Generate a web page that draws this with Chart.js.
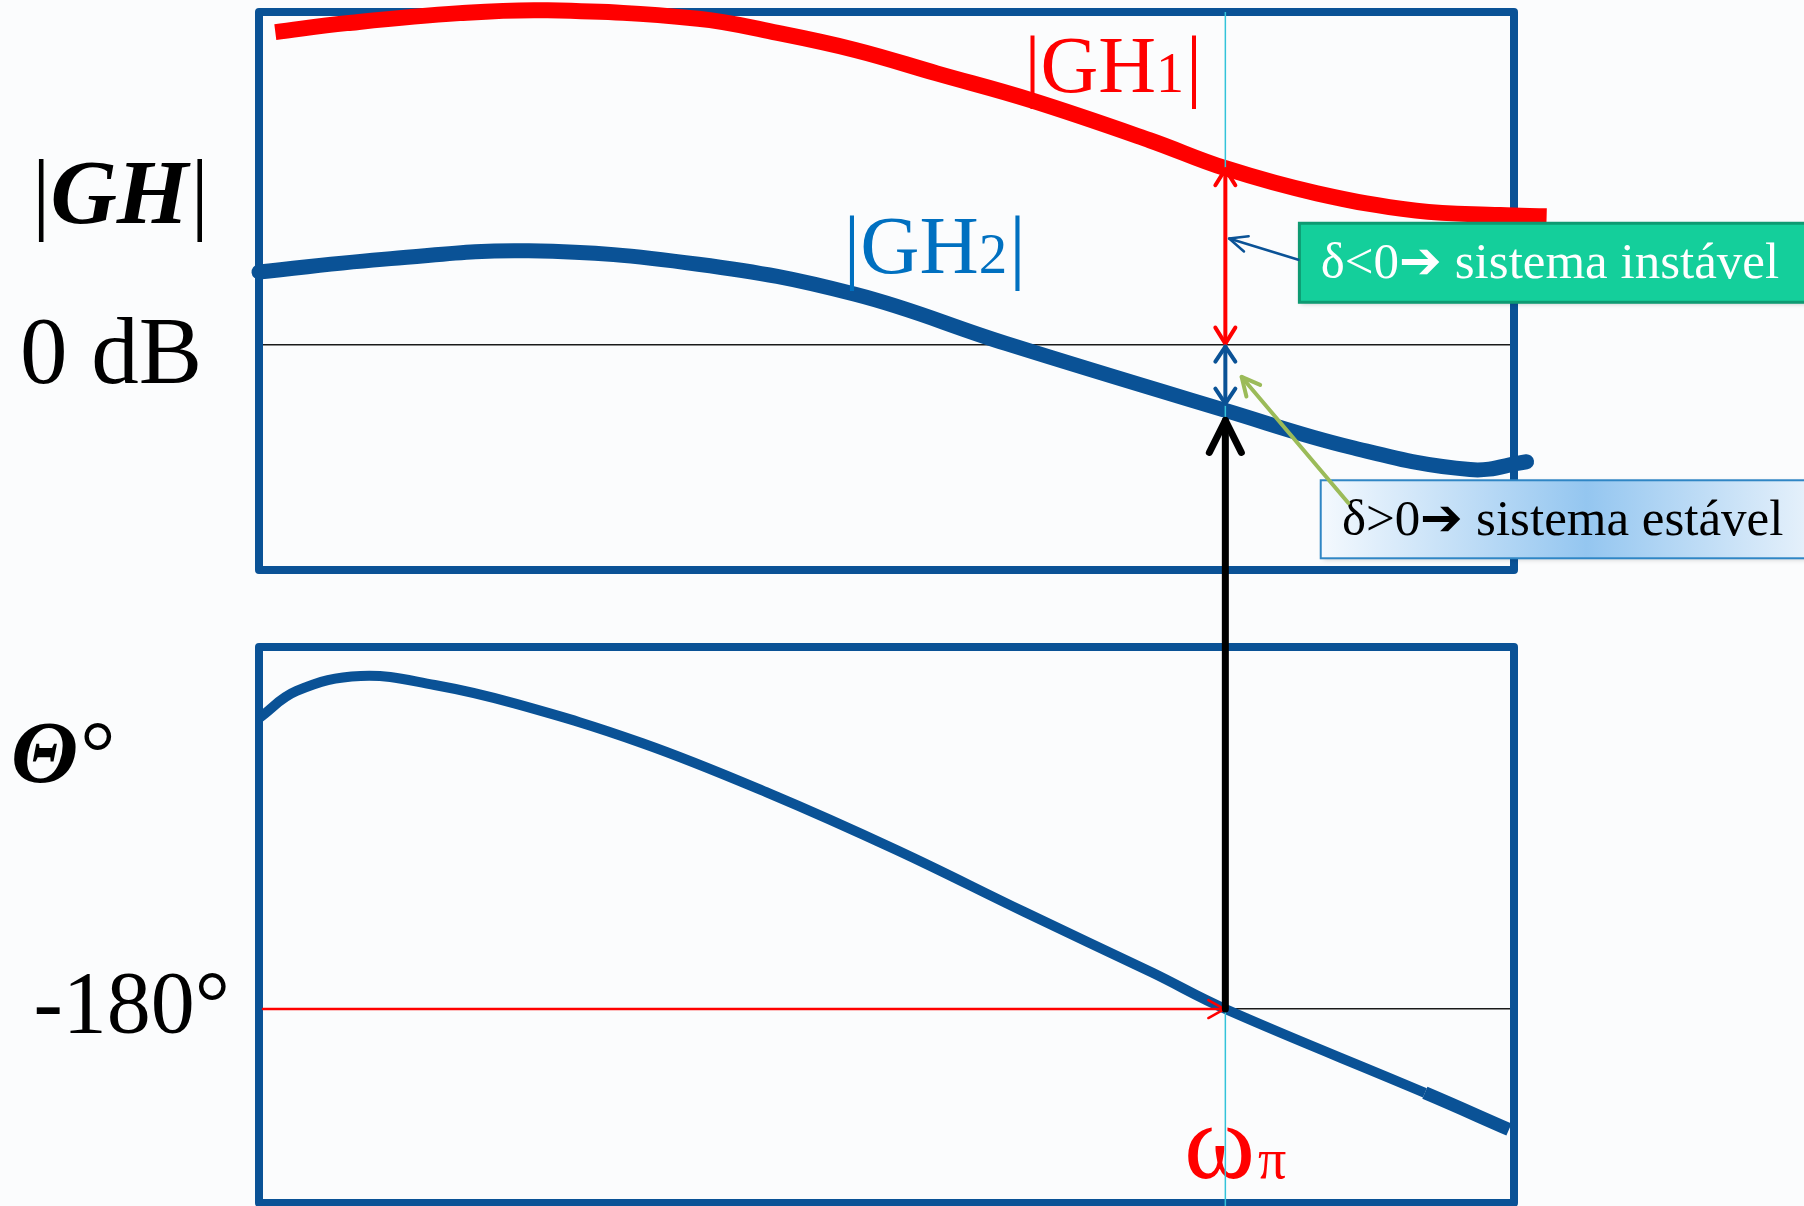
<!DOCTYPE html>
<html>
<head>
<meta charset="utf-8">
<script src="https://cdn.jsdelivr.net/npm/chart.js@4.4.1/dist/chart.umd.min.js"></script>
<style>
  html, body { margin: 0; padding: 0; background: #fbfcfd; overflow: hidden; }
  .wrap { position: absolute; left: 0; top: 0; width: 1804px; height: 1206px; }
</style>
</head>
<body>
<div class="wrap"><canvas id="phaseChart"></canvas></div>
<div class="wrap"><canvas id="magChart"></canvas></div>
<script>
// x axis: log ω, 0 = left edge of the frame, 100 = right edge
const freqGH1 = [1.3, 7, 16, 23, 35, 41, 47.5, 54, 61.5, 71, 77, 84.3, 92.2, 98.9, 102.6];
const magGH1 = [28.0, 28.8, 29.7, 29.95, 29.2, 28.0, 26.4, 24.3, 21.9, 18.3, 15.8, 13.55, 12.0, 11.6, 11.5];

const freqGH2 = [0, 10.5, 21.5, 35, 47.5, 59.5, 77, 87, 96.5, 101];
const magGH2 = [6.5, 7.7, 8.4, 7.2, 4.5, 0.1, -5.9, -9.2, -11.2, -10.5];

const freqPhase = [0, 3, 8.1, 14, 20.5, 30.5, 40.6, 50.8, 61, 71.2, 77, 92.9, 99.6];
const phaseDeg = [-67.5, -57, -51.2, -54.7, -62, -77.1, -96.5, -118.5, -142.5, -166, -180, -212.4, -226.6];

const magTicks = [0];
const magTickLabels = ['0 dB'];
const phaseTicks = [-180];
const phaseTickLabels = ['-180°'];

const wPi = 77;      // ω_π
const gm1 = 15.8;    // |GH1| em ω_π
const gm2 = -5.9;    // |GH2| em ω_π

const serif = "'Liberation Serif', 'Times New Roman', serif";
const frameBlue = '#0a5296';

function toPoints(xs, ys) {
  return xs.map((x, i) => ({ x: x, y: ys[i] }));
}

function arrowHead(ctx, x, y, angle, len, half) {
  const c = Math.cos(angle), s = Math.sin(angle);
  ctx.beginPath();
  ctx.moveTo(x - len * c + half * s, y - len * s - half * c);
  ctx.lineTo(x, y);
  ctx.lineTo(x - len * c - half * s, y - len * s + half * c);
  ctx.stroke();
}

function arrow(ctx, x1, y1, x2, y2, color, width, len, half, both) {
  ctx.save();
  ctx.strokeStyle = color;
  ctx.lineWidth = width;
  ctx.lineCap = 'round';
  ctx.lineJoin = 'round';
  ctx.beginPath();
  ctx.moveTo(x1, y1);
  ctx.lineTo(x2, y2);
  ctx.stroke();
  const a = Math.atan2(y2 - y1, x2 - x1);
  arrowHead(ctx, x2, y2, a, len, half);
  if (both) arrowHead(ctx, x1, y1, a + Math.PI, len, half);
  ctx.restore();
}

// |GH1| style label: bars + letters + small old-style index
function absLabel(ctx, x, y, name, idx, size, color) {
  ctx.save();
  ctx.fillStyle = color;
  ctx.textBaseline = 'alphabetic';
  ctx.textAlign = 'left';
  ctx.font = size + 'px ' + serif;
  ctx.fillText('|' + name, x, y);
  let w = ctx.measureText('|' + name).width;
  ctx.font = Math.round(size * 0.7) + 'px ' + serif;
  ctx.fillText(idx, x + w, y);
  w += ctx.measureText(idx).width + 2;
  ctx.font = size + 'px ' + serif;
  ctx.fillText('|', x + w, y);
  ctx.restore();
}

const framePlugin = {
  id: 'frame',
  beforeDatasetsDraw(chart) {
    const { ctx, chartArea: a } = chart;
    ctx.save();
    ctx.strokeStyle = frameBlue;
    ctx.lineWidth = 8;
    ctx.lineJoin = 'round';
    ctx.strokeRect(a.left, a.top, a.right - a.left, a.bottom - a.top);
    ctx.restore();
  }
};

function baseOptions(yMin, yMax, ticks, labels, tickFont, tickPad, labelOffset, padding) {
  return {
    responsive: true,
    maintainAspectRatio: false,
    animation: false,
    events: [],
    layout: { padding: padding },
    plugins: { legend: { display: false }, tooltip: { enabled: false } },
    scales: {
      x: { type: 'linear', min: 0, max: 100, display: false },
      y: {
        type: 'linear',
        min: yMin,
        max: yMax,
        afterBuildTicks: (scale) => { scale.ticks = ticks.map(v => ({ value: v })); },
        afterFit: (scale) => {
          scale.width = 259;
          scale.paddingTop = 0;
          scale.paddingBottom = 0;
        },
        border: { display: false },
        grid: { color: '#1a1a1a', lineWidth: 1.5, drawTicks: false },
        ticks: {
          callback: (v) => labels[ticks.indexOf(v)],
          color: '#000',
          font: { family: serif, size: tickFont },
          padding: tickPad,
          labelOffset: labelOffset
        }
      }
    }
  };
}

// fase
const phaseChart = new Chart(document.getElementById('phaseChart'), {
  type: 'line',
  data: {
    datasets: [{
      data: toPoints(freqPhase, phaseDeg),
      borderColor: frameBlue,
      borderWidth: 10,
      pointRadius: 0,
      tension: 0.4,
      clip: false,
      borderCapStyle: 'butt',
      segment: { borderWidth: c => c.p0DataIndex >= freqPhase.length - 2 ? 13 : 10 }
    }]
  },
  options: baseOptions(-255, -40, phaseTicks, phaseTickLabels, 88, 29, 0,
    { top: 647, bottom: 3, left: 0, right: 290 }),
  plugins: [framePlugin, {
    id: 'phaseNotes',
    afterDatasetsDraw(chart) {
      const { ctx, chartArea: a } = chart;
      const px = v => chart.scales.x.getPixelForValue(v);
      const py = v => chart.scales.y.getPixelForValue(v);
      // -180° ate ω_π
      arrow(ctx, a.left + 4, py(-180), px(wPi) - 1, py(-180), '#ff0000', 2.5, 16, 9, false);
      // ω_π
      ctx.save();
      ctx.fillStyle = '#ff0000';
      ctx.textBaseline = 'alphabetic';
      ctx.font = '108px ' + serif;
      const yw = py(-245.3);
      ctx.fillText('ω', px(73.7), yw);
      const ww = ctx.measureText('ω').width;
      ctx.font = '56px ' + serif;
      ctx.fillText('π', px(73.7) + ww + 3, yw);
      // Θ°
      ctx.fillStyle = '#000';
      ctx.font = 'bold italic 88px ' + serif;
      ctx.fillText('Θ', 11, py(-92.2));
      const w = ctx.measureText('Θ').width;
      ctx.font = '88px ' + serif;
      ctx.fillText('°', 11 + w + 2, py(-92.2));
      ctx.restore();
    }
  }]
});

// modulo
const magChart = new Chart(document.getElementById('magChart'), {
  type: 'line',
  data: {
    datasets: [{
      data: toPoints(freqGH2, magGH2),
      borderColor: frameBlue,
      borderWidth: 15,
      pointRadius: 0,
      tension: 0.4,
      clip: false,
      borderCapStyle: 'round'
    }, {
      data: toPoints(freqGH1, magGH1),
      borderColor: '#ff0000',
      borderWidth: 16,
      pointRadius: 0,
      tension: 0.4,
      clip: false,
      borderCapStyle: 'butt'
    }]
  },
  options: baseOptions(-20.2, 29.8, magTicks, magTickLabels, 95, 57, 13,
    { top: 12, bottom: 636, left: 0, right: 290 }),
  plugins: [framePlugin, {
    id: 'magNotes',
    afterDatasetsDraw(chart) {
      const { ctx, chartArea: a } = chart;
      const px = v => chart.scales.x.getPixelForValue(v);
      const py = v => chart.scales.y.getPixelForValue(v);
      const xw = px(wPi);

      // linha de ω_π
      ctx.save();
      ctx.strokeStyle = '#33c3d9';
      ctx.lineWidth = 1.5;
      ctx.beginPath();
      ctx.moveTo(xw, a.top);
      ctx.lineTo(xw, chart.height);
      ctx.stroke();
      ctx.restore();

      // margens
      arrow(ctx, xw, py(gm1) + 1, xw, py(0) - 1, '#ff0000', 4, 16, 10, true);
      arrow(ctx, xw, py(0) + 2, xw, py(gm2 + 0.6), frameBlue, 4, 15, 10, true);
      const yBottom = phaseChart.scales.y.getPixelForValue(-180);
      arrow(ctx, xw, yBottom, xw, py(gm2 - 0.9), '#000', 7, 32, 16, false);

      // rotulos das curvas
      absLabel(ctx, px(61.0), py(22.6), 'GH', '1', 80, '#ff0000');
      absLabel(ctx, px(46.6), py(6.4), 'GH', '2', 82, '#0070c0');

      // |GH|
      ctx.save();
      ctx.fillStyle = '#000';
      ctx.textBaseline = 'alphabetic';
      const yb = py(10.9);
      ctx.font = '92px ' + serif;
      ctx.fillText('|', 32, yb);
      let x = 32 + ctx.measureText('|').width;
      ctx.font = 'bold italic 92px ' + serif;
      ctx.fillText('GH', x, yb);
      x += ctx.measureText('GH').width + 2;
      ctx.font = '92px ' + serif;
      ctx.fillText('|', x, yb);
      ctx.restore();

      // caixa instavel
      ctx.save();
      const bx = px(82.9), bt = py(10.87), bb = py(3.79);
      ctx.shadowColor = 'rgba(0,0,0,0.25)';
      ctx.shadowBlur = 5;
      ctx.shadowOffsetX = 2;
      ctx.shadowOffsetY = 2;
      ctx.fillStyle = '#14cf9b';
      ctx.fillRect(bx, bt, chart.width - bx + 10, bb - bt);
      ctx.shadowColor = 'transparent';
      ctx.strokeStyle = '#0e9a72';
      ctx.lineWidth = 3;
      ctx.strokeRect(bx, bt, chart.width - bx + 10, bb - bt);
      ctx.fillStyle = '#ffffff';
      ctx.font = '51px ' + serif;
      ctx.textBaseline = 'alphabetic';
      ctx.fillText('δ<0➔ sistema instável', px(84.6), py(5.94));
      ctx.restore();
      arrow(ctx, bx - 1, py(7.6), px(77.3), py(9.5), frameBlue, 2.5, 18, 8, false);

      // caixa estavel
      ctx.save();
      const cx = px(84.6), ct = py(-12.16), cb = py(-19.15);
      const g = ctx.createLinearGradient(cx, 0, chart.width, 0);
      g.addColorStop(0, '#f4f9fe');
      g.addColorStop(0.55, '#94c6f0');
      g.addColorStop(1, '#e4f0fb');
      ctx.shadowColor = 'rgba(0,0,0,0.2)';
      ctx.shadowBlur = 5;
      ctx.shadowOffsetX = 2;
      ctx.shadowOffsetY = 2;
      ctx.fillStyle = g;
      ctx.fillRect(cx, ct, chart.width - cx + 10, cb - ct);
      ctx.shadowColor = 'transparent';
      ctx.strokeStyle = '#2f86c5';
      ctx.lineWidth = 2;
      ctx.strokeRect(cx, ct, chart.width - cx + 10, cb - ct);
      ctx.fillStyle = '#000';
      ctx.font = '51px ' + serif;
      ctx.fillText('δ>0➔ sistema estável', px(86.3), py(-17.09));
      ctx.restore();
      arrow(ctx, px(86.8), py(-14.2), px(78.3), py(-2.9), '#9bbb59', 4, 18, 9, false);
    }
  }]
});
</script>
</body>
</html>
